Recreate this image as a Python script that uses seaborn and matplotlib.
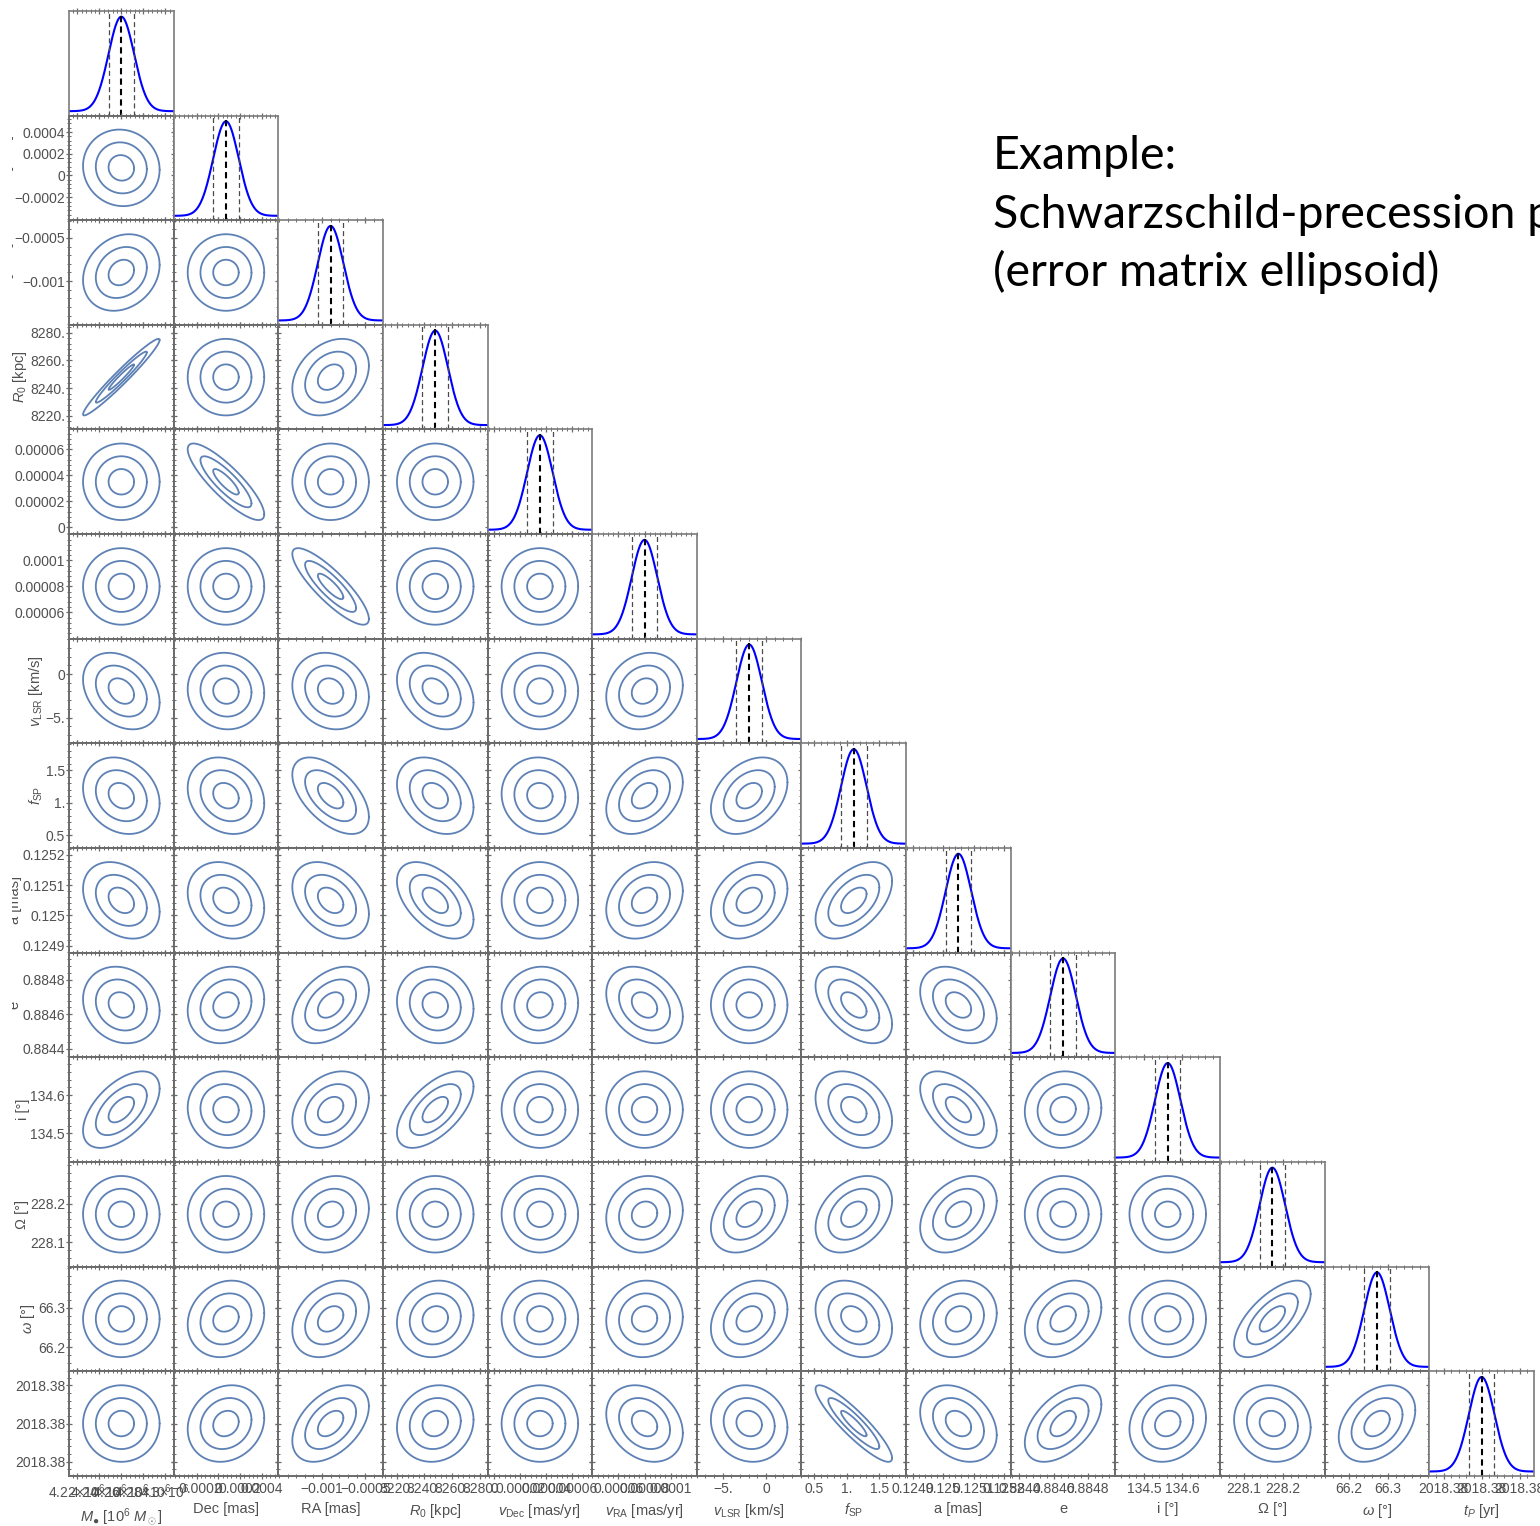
import numpy as np
import pandas as pd
import matplotlib
matplotlib.use("Agg")
import matplotlib.pyplot as plt
import seaborn as sns
from matplotlib.ticker import (FixedLocator, FixedFormatter, AutoMinorLocator,
                               NullLocator)
from matplotlib.transforms import Bbox, TransformedBbox

sns.set_theme(style="white")
plt.rcParams["font.family"] = ["Liberation Sans", "DejaVu Sans"]
plt.rcParams["mathtext.fontset"] = "custom"
plt.rcParams["mathtext.rm"] = "Liberation Sans"
plt.rcParams["mathtext.it"] = "Liberation Sans:italic"
plt.rcParams["mathtext.bf"] = "Liberation Sans:bold"

# ---- orbit-fit parameters: best-fit values and 1-sigma errors ----
param_labels = [
    r"$M_{\mathrm{●}}$ [10$^6$ $M_\odot$]", "Dec [mas]", "RA [mas]", r"$R_0$ [kpc]",
    r"$v_\mathrm{Dec}$ [mas/yr]", r"$v_\mathrm{RA}$ [mas/yr]", r"$v_\mathrm{LSR}$ [km/s]",
    r"$f_\mathrm{SP}$", "a [mas]", "e", "i [°]", "Ω [°]", r"$\omega$ [°]", r"$t_P$ [yr]",
]
means = [4.260e6, 0.00007, -0.000901, 8247.9, 0.0000351, 0.0000800, -1.95,
         1.109, 0.12505, 0.884654, 134.562, 228.173, 66.272, 2018.3800]
sigmas = [0.0116e6, 0.0001175, 0.000148, 9.2, 0.0000098, 0.0000098, 1.47,
          0.196, 0.0000421, 0.0000741, 0.0332, 0.0330, 0.0323, 0.000335]

# lower triangle of the correlation matrix (row i holds rho(i, 0..i-1))
corr_rows = [
    [],
    [-0.05],
    [0.2, 0.0],
    [0.97, 0.0, 0.3],
    [0.0, -0.85, 0.0, 0.0],
    [0.0, 0.0, -0.85, 0.0, 0.0],
    [-0.3, -0.05, -0.15, -0.3, 0.0, 0.15],
    [-0.2, -0.2, -0.55, -0.3, -0.05, 0.35, 0.35],
    [-0.3, -0.2, -0.35, -0.5, 0.0, 0.25, 0.3, 0.5],
    [-0.15, 0.15, 0.4, -0.1, 0.05, -0.3, 0.0, -0.5, -0.35],
    [0.55, -0.05, 0.3, 0.6, 0.0, 0.0, 0.0, -0.3, -0.55, 0.05],
    [0.0, 0.0, 0.15, 0.0, 0.0, 0.1, 0.35, 0.35, 0.35, 0.0, 0.0],
    [0.0, 0.15, 0.3, 0.1, 0.0, 0.05, 0.25, -0.25, 0.15, 0.3, 0.0, 0.65],
    [0.0, 0.15, 0.45, 0.1, 0.0, -0.25, -0.1, -0.9, -0.3, 0.5, 0.15, -0.1, 0.35],
]

# axis ticks and their printed labels
tick_values = [
    [4.22e6, 4.24e6, 4.26e6, 4.28e6, 4.30e6],
    [-0.0002, 0.0, 0.0002, 0.0004],
    [-0.001, -0.0005],
    [8220, 8240, 8260, 8280],
    [0.0, 0.00002, 0.00004, 0.00006],
    [0.00006, 0.00008, 0.0001],
    [-5.0, 0.0],
    [0.5, 1.0, 1.5],
    [0.1249, 0.1250, 0.1251, 0.1252],
    [0.8844, 0.8846, 0.8848],
    [134.5, 134.6],
    [228.1, 228.2],
    [66.2, 66.3],
    [2018.379, 2018.380, 2018.381],
]
tick_text = [
    [r"4.22×10$^6$", r"4.24×10$^6$", r"4.26×10$^6$", r"4.28×10$^6$", r"4.3×10$^6$"],
    ["−0.0002", "0", "0.0002", "0.0004"],
    ["−0.001", "−0.0005"],
    ["8220.", "8240.", "8260.", "8280."],
    ["0", "0.00002", "0.00004", "0.00006"],
    ["0.00006", "0.00008", "0.0001"],
    ["−5.", "0"],
    ["0.5", "1.", "1.5"],
    ["0.1249", "0.125", "0.1251", "0.1252"],
    ["0.8844", "0.8846", "0.8848"],
    ["134.5", "134.6"],
    ["228.1", "228.2"],
    ["66.2", "66.3"],
    ["2018.38", "2018.38", "2018.38"],
]

contour_levels = [1, 2, 3]   # Delta chi^2 = 1, 4, 9
half_range = 4.1             # axis half-width in units of sigma

ELLIPSE_COLOR = "#5E81B5"
CURVE_COLOR = "#0000FF"
FRAME_COLOR = "#6a6a6a"
TEXT_COLOR = "#505050"

n = len(means)
W, H = 1540, 1526
x0, y0 = 69, 10.9
cell = 104.64

fig = plt.figure(figsize=(W / 100, H / 100), dpi=100)
fig.patch.set_facecolor("white")

# the plot area ends a little inside the left image edge
label_clip = TransformedBbox(Bbox([[12 / W, 0.0], [1.0, 1.0]]), fig.transFigure)


def style_axis(ax, i_x, i_y=None, diag=False):
    mx, sx = means[i_x], sigmas[i_x]
    ax.set_xlim(mx - half_range * sx, mx + half_range * sx)
    ax.xaxis.set_major_locator(FixedLocator(tick_values[i_x]))
    ax.xaxis.set_major_formatter(FixedFormatter(tick_text[i_x]))
    ax.xaxis.set_minor_locator(AutoMinorLocator(5))
    if diag:
        ax.set_ylim(-0.046, 1.061)
        ax.yaxis.set_major_locator(NullLocator())
        ax.yaxis.set_minor_locator(NullLocator())
    else:
        my, sy = means[i_y], sigmas[i_y]
        ax.set_ylim(my - half_range * sy, my + half_range * sy)
        ax.yaxis.set_major_locator(FixedLocator(tick_values[i_y]))
        ax.yaxis.set_major_formatter(FixedFormatter(tick_text[i_y]))
        ax.yaxis.set_minor_locator(AutoMinorLocator(5))
    ax.tick_params(which="both", direction="inout", top=True, right=True,
                   bottom=True, left=True, color=FRAME_COLOR,
                   labelcolor=TEXT_COLOR, labelsize=10)
    ax.tick_params(which="major", length=5, width=0.9)
    ax.tick_params(axis="x", which="major", pad=2.2)
    ax.tick_params(axis="y", which="major", pad=0.3)
    ax.tick_params(which="minor", length=2.6, width=0.7)
    for sp in ax.spines.values():
        sp.set_color(FRAME_COLOR if not diag else "#7c7c7c")
        sp.set_linewidth(1.4 if not diag else 1.2)
        sp.set_visible(True)
    ax.set_facecolor("white")
    ax.grid(False)
    ax.set_xlabel("")
    ax.set_ylabel("")


theta = np.linspace(0, 2 * np.pi, 240)

for r in range(n):
    for c in range(r + 1):
        left = (x0 + c * cell) / W
        bottom = 1 - (y0 + (r + 1) * cell) / H
        ax = fig.add_axes([left, bottom, cell / W, cell / H])
        if r == c:
            m, s = means[c], sigmas[c]
            t = np.linspace(-half_range, half_range, 400)
            dens = pd.DataFrame({"x": m + s * t, "y": np.exp(-0.5 * t ** 2)})
            sns.lineplot(data=dens, x="x", y="y", ax=ax, color=CURVE_COLOR,
                         lw=1.5, sort=False, estimator=None)
            ax.axvline(m - s, color="#4a4a4a", lw=0.9, ls=(0, (4, 2.5)))
            ax.axvline(m + s, color="#4a4a4a", lw=0.9, ls=(0, (4, 2.5)))
            ax.axvline(m, color="black", lw=1.5, ls=(0, (3, 2)))
            style_axis(ax, c, diag=True)
        else:
            rho = corr_rows[r][c]
            mx, sx = means[c], sigmas[c]
            my, sy = means[r], sigmas[r]
            frames = []
            for k in contour_levels:
                u = k * np.cos(theta)
                v = k * (rho * np.cos(theta) + np.sqrt(1 - rho ** 2) * np.sin(theta))
                frames.append(pd.DataFrame({"x": mx + sx * u, "y": my + sy * v,
                                            "level": k}))
            ell = pd.concat(frames, ignore_index=True)
            sns.lineplot(data=ell, x="x", y="y", units="level", estimator=None,
                         sort=False, ax=ax, color=ELLIPSE_COLOR, lw=1.3)
            style_axis(ax, c, r)
        # tick labels only on the outer edges
        if r != n - 1:
            ax.tick_params(labelbottom=False)
        else:
            ax.set_xlabel(param_labels[c], fontsize=10.5, color=TEXT_COLOR, labelpad=4)
        if c != 0 or r == 0:
            ax.tick_params(labelleft=False)
        else:
            ax.set_ylabel(param_labels[r], fontsize=10.5, color=TEXT_COLOR, labelpad=0.6)
            ax.yaxis.label.set_clip_box(label_clip)
            ax.yaxis.label.set_clip_on(True)

# annotation on the right
note_lines = ["Example:", "Schwarzschild-precession parameter", "(error matrix ellipsoid)"]
for line, yb in zip(note_lines, [169, 228, 286]):
    fig.text(993 / W, 1 - yb / H, line, fontsize=33.5, family=["Lato", "DejaVu Sans"],
             color="black", ha="left", va="baseline")

fig.savefig("out.png", dpi=100, facecolor="white")
